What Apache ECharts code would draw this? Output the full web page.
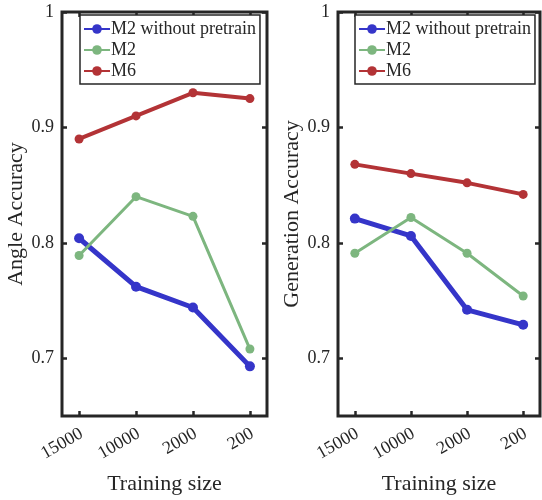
<!DOCTYPE html>
<html><head><meta charset="utf-8">
<script src="https://cdn.jsdelivr.net/npm/echarts@6/dist/echarts.min.js"></script>
<style>html,body{margin:0;padding:0;background:#fff}#c{width:542px;height:500px}</style>
</head><body><div id="c"></div>
<script>
const categories = ['15000', '10000', '2000', '200'];
const seriesNames = ['M2 without pretrain', 'M2', 'M6'];
const angleM2NoPre = [0.804, 0.762, 0.744, 0.693];
const angleM2 = [0.789, 0.840, 0.823, 0.708];
const angleM6 = [0.890, 0.910, 0.930, 0.925];
const genM2NoPre = [0.821, 0.806, 0.742, 0.729];
const genM2 = [0.791, 0.822, 0.791, 0.754];
const genM6 = [0.868, 0.860, 0.852, 0.842];
const yTicks = [0.7, 0.8, 0.9, 1];
const colors = ['#3535c9', '#7db67f', '#b33336'];
const widths = [5, 3, 4];
const symSizes = [10, 9, 9];

const font = 'Liberation Serif';
const dark = '#262626';
const catIdx = categories.map((c, i) => i);

function xAxes(gi) {
  return [{
    gridIndex: gi, type: 'value', min: -0.3, max: 3.3, position: 'bottom',
    name: 'Training size', nameLocation: 'middle', nameGap: 57,
    nameTextStyle: { fontFamily: font, fontSize: 22, color: dark },
    axisLine: { show: false, onZero: false },
    axisTick: { show: true, inside: true, length: 5, lineStyle: { color: dark, width: 2.5 }, customValues: catIdx },
    axisLabel: { customValues: catIdx, rotate: 30, fontFamily: font, fontSize: 18, color: dark, margin: 18,
      padding: [0, -3, 0, 0],
      formatter: v => categories[Math.round(v)] },
    splitLine: { show: false }
  }, {
    gridIndex: gi, type: 'value', min: -0.3, max: 3.3, position: 'top',
    axisLine: { show: false, onZero: false },
    axisTick: { show: true, inside: true, length: 5, lineStyle: { color: dark, width: 2.5 }, customValues: catIdx },
    axisLabel: { show: false }, splitLine: { show: false }
  }];
}
function yAxes(gi, name, gap) {
  return [{
    gridIndex: gi, type: 'value', min: 0.65, max: 1, position: 'left',
    name: name, nameLocation: 'middle', nameGap: gap,
    nameTextStyle: { fontFamily: font, fontSize: 22, color: dark },
    axisLine: { show: false, onZero: false },
    axisTick: { show: true, inside: true, length: 5, lineStyle: { color: dark, width: 2.5 }, customValues: yTicks },
    axisLabel: { customValues: yTicks, fontFamily: font, fontSize: 18, color: dark, margin: 8,
      formatter: v => (v === 1 ? '1' : v.toFixed(1)) },
    splitLine: { show: false }
  }, {
    gridIndex: gi, type: 'value', min: 0.65, max: 1, position: 'right',
    axisLine: { show: false, onZero: false },
    axisTick: { show: true, inside: true, length: 5, lineStyle: { color: dark, width: 2.5 }, customValues: yTicks },
    axisLabel: { show: false }, splitLine: { show: false }
  }];
}
function mk(name, data, ci, gi) {
  return {
    name: name, type: 'line', xAxisIndex: gi * 2, yAxisIndex: gi * 2,
    data: data.map((v, i) => [i, v]),
    symbol: 'circle', symbolSize: symSizes[ci],
    lineStyle: { color: colors[ci], width: widths[ci] },
    itemStyle: { color: colors[ci] },
    emphasis: { disabled: true }, animation: false
  };
}
function legend(left) {
  return {
    left: left, top: 15, orient: 'vertical', itemGap: 3, itemWidth: 26, itemHeight: 12,
    padding: [5, 4, 4, 3], borderColor: dark, borderWidth: 1.5, backgroundColor: '#fff',
    textStyle: { fontFamily: font, fontSize: 18, lineHeight: 18, color: dark, padding: [0, 0, 0, -4] },
    data: seriesNames
  };
}
const chart = echarts.init(document.getElementById('c'), null, { renderer: 'canvas' });
chart.setOption({
  animation: false,
  grid: [
    { left: 62, top: 12, width: 205, height: 407, show: true, borderColor: dark, borderWidth: 3, backgroundColor: 'transparent' },
    { left: 338, top: 12, width: 202, height: 407, show: true, borderColor: dark, borderWidth: 3, backgroundColor: 'transparent' }
  ],
  legend: [legend(80), legend(355)],
  xAxis: [...xAxes(0), ...xAxes(1)],
  yAxis: [...yAxes(0, 'Angle Accuracy', 33), ...yAxes(1, 'Generation Accuracy', 31)],
  series: [
    mk(seriesNames[0], angleM2NoPre, 0, 0),
    mk(seriesNames[1], angleM2, 1, 0),
    mk(seriesNames[2], angleM6, 2, 0),
    mk(seriesNames[0], genM2NoPre, 0, 1),
    mk(seriesNames[1], genM2, 1, 1),
    mk(seriesNames[2], genM6, 2, 1)
  ]
});
</script></body></html>
